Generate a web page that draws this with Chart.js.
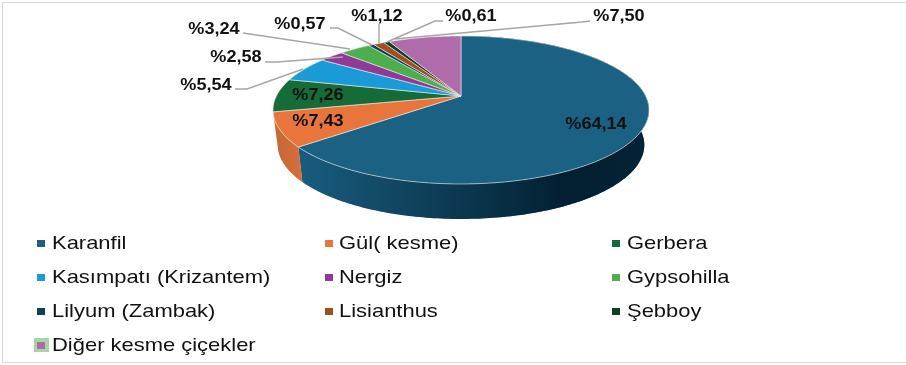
<!DOCTYPE html>
<html lang="tr">
<head>
  <meta charset="UTF-8" />
  <title>Kesme çiçek</title>
  <script src="https://cdn.jsdelivr.net/npm/chart.js"></script>
  <style>
    html, body { margin: 0; padding: 0; background: #fff; }
    #wrap { position: relative; width: 906px; height: 365px; overflow: hidden; font-family: "Liberation Sans", Arial, sans-serif; filter: blur(0.35px); }
    #frame { position: absolute; left: 2px; top: 2px; width: 920px; height: 359px; border: 1px solid #d9d9d9; }
    canvas { position: absolute; left: 0; top: 0; }
    .leg { position: absolute; font-size: 19px; line-height: 20px; color: #111; white-space: nowrap; transform-origin: left center; transform: scaleX(1.155); }
    .sw { position: absolute; width: 8px; height: 7px; }
    .selbox { position: absolute; left: 34px; top: 338px; width: 15px; height: 14px; background: #a5d6a5; }
  </style>
</head>
<body>
<div id="wrap">
  <div id="frame"></div>
  <canvas id="pie" width="906" height="365"></canvas>
  <div class="selbox"></div>
</div>
<script>
const labels = ['Karanfil', 'Gül( kesme)', 'Gerbera', 'Kasımpatı (Krizantem)', 'Nergiz', 'Gypsohilla', 'Lilyum (Zambak)', 'Lisianthus', 'Şebboy', 'Diğer kesme çiçekler'];
const values = [64.14, 7.43, 7.26, 5.54, 2.58, 3.24, 0.57, 1.12, 0.61, 7.50];
const valueText = ['%64,14', '%7,43', '%7,26', '%5,54', '%2,58', '%3,24', '%0,57', '%1,12', '%0,61', '%7,50'];
const colors = ['#1b6184', '#e8763c', '#166c38', '#1a9bd7', '#8f3a96', '#4caf4c', '#0f3f5c', '#a04d20', '#0c4020', '#b06bab'];

// label box centre, then leader line points
const labelPos = [[596, 125], [318, 122], [318, 96], [206, 86], [236, 58], [214, 30], [300, 25], [377, 17], [471, 17], [619, 17]];
const leaders = [null, null, null,
  [[235, 89], [247, 89], [303, 69]],
  [[265, 62], [277, 62], [343, 57]],
  [[243, 33], [350, 49]],
  [[330, 28], [338, 28], [372, 45]],
  [[379, 24], [379, 43]],
  [[443, 21], [435, 21], [387, 42]],
  [[590, 21], [582, 22], [395, 39]]];

const swatchX = [37, 325, 612];
const textX = [52, 339, 627];
const legendY = [243, 277, 311, 345];

// perspective of the tilted disc
const rx = 184.6, ry = 71.35, tilt = 0.189, depth = 35, lowerScale = 0.975;

function project(arc, a, dy, sx) {
  const w = 1 - tilt * Math.sin(a);
  return [arc.x + sx * rx * Math.cos(a) / w, arc.y + ry * Math.sin(a) / w + dy];
}

function rimPoints(arc, dy, sx) {
  const pts = [];
  const n = Math.max(2, Math.ceil((arc.endAngle - arc.startAngle) * 60));
  for (let i = 0; i <= n; i++) {
    pts.push(project(arc, arc.startAngle + (arc.endAngle - arc.startAngle) * i / n, dy, sx));
  }
  return pts;
}

const disc3d = {
  id: 'disc3d',
  beforeDatasetDraw(chart) {
    const ctx = chart.ctx;
    const arcs = chart.getDatasetMeta(0).data;
    ctx.save();
    // side wall, only slices facing the viewer
    arcs.forEach((arc, i) => {
      if (Math.sin((arc.startAngle + arc.endAngle) / 2) < 0) return;
      const top = rimPoints(arc, 0, 1);
      const bottom = rimPoints(arc, depth, lowerScale).reverse();
      ctx.beginPath();
      top.concat(bottom).forEach((p, k) => k ? ctx.lineTo(p[0], p[1]) : ctx.moveTo(p[0], p[1]));
      ctx.closePath();
      ctx.fillStyle = colors[i];
      ctx.fill();
      const shade = ctx.createLinearGradient(273, 0, 649, 0);
      shade.addColorStop(0, 'rgba(0,24,40,0.16)');
      shade.addColorStop(0.08, 'rgba(0,24,40,0.08)');
      shade.addColorStop(0.78, 'rgba(0,24,40,0.9)');
      shade.addColorStop(1, 'rgba(0,24,40,0.85)');
      ctx.fillStyle = shade;
      ctx.fill();
    });
    // top face
    arcs.forEach((arc, i) => {
      ctx.beginPath();
      ctx.moveTo(arc.x, arc.y);
      rimPoints(arc, 0, 1).forEach(p => ctx.lineTo(p[0], p[1]));
      ctx.closePath();
      ctx.fillStyle = colors[i];
      ctx.fill();
      ctx.strokeStyle = 'rgba(235,235,235,0.75)';
      ctx.lineWidth = 0.8;
      ctx.stroke();
    });
    ctx.restore();
    return false;
  },
  afterDraw(chart) {
    const ctx = chart.ctx;
    ctx.save();
    ctx.strokeStyle = '#a6a6a6';
    ctx.lineWidth = 1.4;
    leaders.forEach(line => {
      if (!line) return;
      ctx.beginPath();
      line.forEach((p, k) => k ? ctx.lineTo(p[0], p[1]) : ctx.moveTo(p[0], p[1]));
      ctx.stroke();
    });
    ctx.font = 'bold 16px "Liberation Sans", Arial, sans-serif';
    ctx.fillStyle = '#111';
    ctx.textAlign = 'center';
    ctx.textBaseline = 'middle';
    valueText.forEach((t, i) => {
      ctx.save();
      ctx.translate(labelPos[i][0], labelPos[i][1]);
      ctx.scale(1.13, 1);
      ctx.fillText(t, 0, 0);
      ctx.restore();
    });
    ctx.restore();
  }
};

new Chart(document.getElementById('pie'), {
  type: 'pie',
  data: {
    labels,
    datasets: [{ data: values, backgroundColor: colors, borderWidth: 0 }]
  },
  options: {
    responsive: false,
    animation: false,
    layout: { padding: { left: 16, top: 0, right: 0, bottom: 173 } },
    plugins: { legend: { display: false }, tooltip: { enabled: false } }
  },
  plugins: [disc3d]
});

// legend in three columns
const wrap = document.getElementById('wrap');
labels.forEach((name, i) => {
  const col = i % 3, y = legendY[Math.floor(i / 3)];
  const sw = document.createElement('div');
  sw.className = 'sw';
  sw.style.left = swatchX[col] + 'px';
  sw.style.top = (y - 3) + 'px';
  sw.style.background = colors[i];
  wrap.appendChild(sw);
  const txt = document.createElement('div');
  txt.className = 'leg';
  txt.textContent = name;
  txt.style.left = textX[col] + 'px';
  txt.style.top = (y - 10) + 'px';
  wrap.appendChild(txt);
});
</script>
</body>
</html>
